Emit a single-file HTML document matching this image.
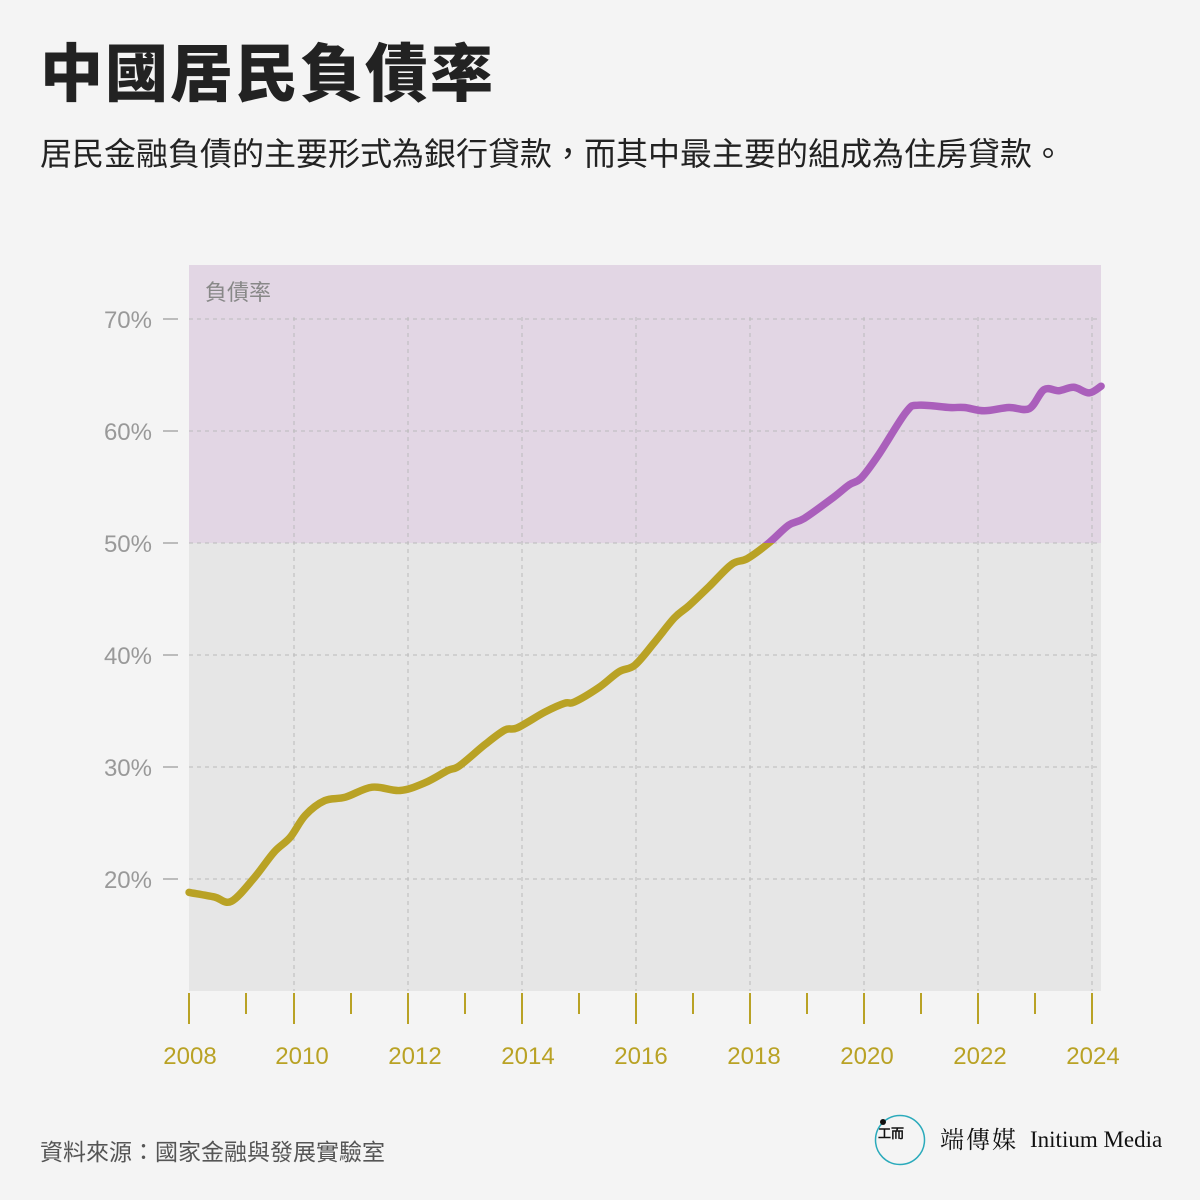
<!DOCTYPE html>
<html><head><meta charset="utf-8">
<style>
html,body{margin:0;padding:0;background:#f4f4f4;}
body{width:1200px;height:1200px;position:relative;overflow:hidden;font-family:"Liberation Sans","Noto Sans CJK TC",sans-serif;}
#title{position:absolute;left:40px;top:24px;font-size:63px;font-weight:900;color:#222;letter-spacing:2px;margin:0;}
#subtitle{position:absolute;left:40px;top:129px;font-size:32px;color:#222;margin:0;}
#source{position:absolute;left:40px;top:1133px;font-size:23px;color:#555;}
#logo{position:absolute;left:874px;top:1114px;width:320px;height:54px;}
</style></head><body>
<h1 id="title">中國居民負債率</h1>
<p id="subtitle">居民金融負債的主要形式為銀行貸款，而其中最主要的組成為住房貸款。</p>
<svg id="chart" width="1200" height="1200" style="position:absolute;left:0;top:0" xmlns="http://www.w3.org/2000/svg"></svg>
<div id="source">資料來源：國家金融與發展實驗室</div>
<div id="logo">
<svg width="320" height="54" xmlns="http://www.w3.org/2000/svg">
<circle cx="26" cy="26" r="24.5" fill="none" stroke="#2aaabb" stroke-width="1.5"/>
<circle cx="9" cy="8" r="3" fill="#111"/>
<text x="4" y="24" font-size="13" font-family="Liberation Serif, serif" font-weight="bold" fill="#111">工而</text>
<text x="66" y="34" font-size="24" font-family="Liberation Serif, 'Noto Serif CJK SC', serif" fill="#111" letter-spacing="2">端傳媒</text>
<text x="156" y="33" font-size="23" font-family="Liberation Serif, serif" fill="#111">Initium Media</text>
</svg></div>
<script>
const years=[2008.16,2008.6,2008.9,2009.3,2009.65,2009.93,2010.2,2010.54,2010.9,2011.37,2011.86,2012.3,2012.7,2012.9,2013.35,2013.7,2013.92,2014.4,2014.75,2014.92,2015.35,2015.7,2015.98,2016.32,2016.67,2016.93,2017.28,2017.68,2017.95,2018.33,2018.68,2018.95,2019.47,2019.74,2019.95,2020.26,2020.74,2020.96,2021.5,2021.76,2022.11,2022.54,2022.9,2023.16,2023.42,2023.68,2023.95,2024.16];
const rates=[18.8,18.4,18.0,20.1,22.4,23.7,25.7,27.0,27.3,28.2,27.9,28.6,29.7,30.1,32.0,33.3,33.5,34.9,35.7,35.8,37.1,38.5,39.1,41.1,43.3,44.4,46.1,48.1,48.6,50.0,51.6,52.2,54.1,55.2,55.8,57.9,61.7,62.3,62.1,62.1,61.8,62.1,62.0,63.7,63.6,63.9,63.4,64.0];
const yTicks=[20,30,40,50,60,70];
const yTickLabels=["20%","30%","40%","50%","60%","70%"];
const xTickYears=[2008,2009,2010,2011,2012,2013,2014,2015,2016,2017,2018,2019,2020,2021,2022,2023,2024];
const xLabelYears=[2008,2010,2012,2014,2016,2018,2020,2022,2024];
const threshold=50;

const NS="http://www.w3.org/2000/svg";
const svg=document.getElementById('chart');
const L=189,R=1101,T=265,B=991;
const xs=y=>294+(y-2010)*57;
const ys=v=>879-(v-20)*11.2;
function el(tag,attrs,parent){const e=document.createElementNS(NS,tag);for(const k in attrs)e.setAttribute(k,attrs[k]);(parent||svg).appendChild(e);return e;}

const lower=el('rect',{x:L,y:ys(threshold),width:R-L,height:B-ys(threshold),fill:'#e6e6e6'});


const upper=el('rect',{x:L,y:T,width:R-L,height:ys(threshold)-T,fill:'#e2d6e4'});


const zl=el('text',{x:205,y:300,'font-size':22,fill:'#888','font-family':'Liberation Sans, Noto Sans CJK TC, sans-serif'});
zl.textContent='負債率';



yTicks.forEach((v,i)=>{
  const g=el('line',{x1:L,x2:R,y1:ys(v),y2:ys(v),stroke:'#bbb','stroke-width':1,'stroke-dasharray':'4,4'});
  
  
  const t=el('line',{x1:163,x2:178,y1:ys(v),y2:ys(v),stroke:'#aaa','stroke-width':1.5});
  
  
  const lb=el('text',{x:152,y:ys(v)+9,'font-size':24,fill:'#999','text-anchor':'end'});
  lb.textContent=yTickLabels[i];
  
  
});
xTickYears.forEach(yr=>{
  let x=Math.max(L,xs(yr));
  if(yr===2009) x=246;
  const major=yr%2===0;
  if(yr>2008 && major){
    const g=el('line',{x1:x,x2:x,y1:T+52,y2:B,stroke:'#bbb','stroke-width':1,'stroke-dasharray':'4,4'});
    
    
  }
  const t=el('line',{x1:x,x2:x,y1:993,y2:major?1024:1014,stroke:'#b9a225','stroke-width':2});
  
  
});
xLabelYears.forEach((yr,i)=>{
  const x=yr===2008?190:xs(yr)+9-i;
  const lb=el('text',{x:x,y:1064,'font-size':24,fill:'#b9a225','text-anchor':'middle'});
  lb.textContent=yr;
  
  
});

const defs=el('defs',{});
const c1=el('clipPath',{id:'below'},defs);el('rect',{x:0,y:ys(threshold),width:1200,height:1200},c1);
const c2=el('clipPath',{id:'above'},defs);el('rect',{x:0,y:0,width:1200,height:ys(threshold)},c2);
const P=years.map((yr,i)=>[xs(yr),ys(rates[i])]);
let d='M'+P[0][0].toFixed(1)+','+P[0][1].toFixed(1);
for(let i=0;i<P.length-1;i++){
  const p0=P[Math.max(0,i-1)],p1=P[i],p2=P[i+1],p3=P[Math.min(P.length-1,i+2)];
  const c1x=p1[0]+(p2[0]-p0[0])/6,c1y=p1[1]+(p2[1]-p0[1])/6;
  const c2x=p2[0]-(p3[0]-p1[0])/6,c2y=p2[1]-(p3[1]-p1[1])/6;
  d+='C'+c1x.toFixed(1)+','+c1y.toFixed(1)+' '+c2x.toFixed(1)+','+c2y.toFixed(1)+' '+p2[0].toFixed(1)+','+p2[1].toFixed(1);
}
const l1=el('path',{d:d,fill:'none',stroke:'#b9a225','stroke-width':7.5,'stroke-linejoin':'round','stroke-linecap':'round','clip-path':'url(#below)'});


const l2=el('path',{d:d,fill:'none',stroke:'#aa5fbb','stroke-width':7.5,'stroke-linejoin':'round','stroke-linecap':'round','clip-path':'url(#above)'});


</script>
</body></html>
